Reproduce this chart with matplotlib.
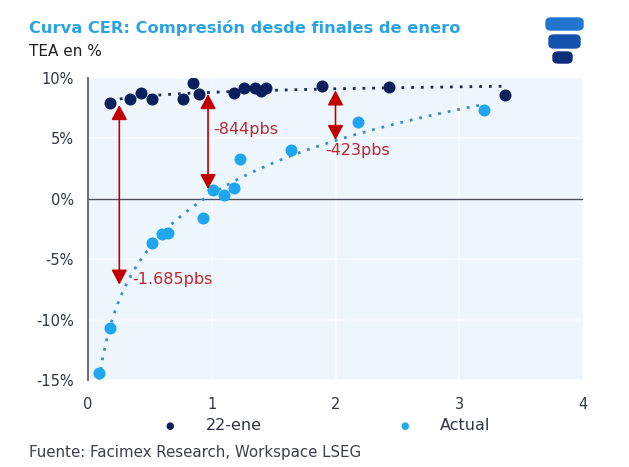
import numpy as np
import matplotlib
matplotlib.use("Agg")
import matplotlib.pyplot as plt
from matplotlib.patches import FancyBboxPatch

# 22-ene curve (duration, TEA %)
ene_x = [0.18, 0.34, 0.43, 0.52, 0.765, 0.85, 0.895, 1.18, 1.26, 1.35, 1.40, 1.436, 1.89, 2.43, 3.37]
ene_y = [7.9, 8.24, 8.79, 8.24, 8.24, 9.56, 8.65, 8.73, 9.15, 9.15, 8.95, 9.15, 9.37, 9.28, 8.6]

# current curve
act_x = [0.09, 0.18, 0.52, 0.60, 0.644, 0.93, 1.01, 1.10, 1.18, 1.23, 1.64, 2.18, 3.20]
act_y = [-14.44, -10.69, -3.69, -2.95, -2.87, -1.6, 0.74, 0.33, 0.93, 3.3, 4.05, 6.34, 7.36]

# compression arrows: x, top, bottom
arr_x = [0.253, 0.97, 2.0]
arr_top = [7.76, 8.67, 8.97]
arr_bot = [-7.1, 0.81, 4.87]
lbl_txt = ["-1.685pbs", "-844pbs", "-423pbs"]
lbl_x = [0.356, 1.01, 1.915]
lbl_y = [-6.7, 5.7, 3.96]

yticks = [10, 5, 0, -5, -10, -15]
xticks = [0, 1, 2, 3, 4]

NAVY = "#0B1F5C"
SKY = "#1EA7F0"
RED = "#C00000"

plt.rcParams['font.family'] = ['DejaVu Sans']

fig = plt.figure(figsize=(6.29, 4.67), dpi=100)
ax = fig.add_axes([88 / 629, 1 - 380 / 467, 495 / 629, 302 / 467])
ax.set_facecolor("#EEF6FD")

ax.set_xlim(0, 4)
ax.set_ylim(-15, 10)
ax.set_xticks(xticks)
ax.set_yticks(yticks)
ax.set_yticklabels([f"{v}%" for v in yticks])
ax.tick_params(length=0, labelsize=10.5, colors="#2F3542", pad=10)
ax.tick_params(axis='x', pad=12)
ax.grid(color="#F9FCFF", lw=1.2)
ax.set_axisbelow(True)
for s in ['top', 'right', 'bottom']:
    ax.spines[s].set_visible(False)
ax.spines['left'].set_color("#5A6170")
ax.spines['left'].set_linewidth(1.3)
ax.axhline(0, color="#4A5060", lw=1.0, zorder=1)

# log trendlines fitted on each curve
for xs, ys, c in [(ene_x, ene_y, "#1B2A55"), (act_x, act_y, "#3A8CC9")]:
    b, a = np.polyfit(np.log(xs), ys, 1)
    xx = np.linspace(min(xs), max(xs), 200)
    ax.plot(xx, a + b * np.log(xx), ls=(0, (1, 2.5)), color=c, lw=2, zorder=2)

ax.scatter(ene_x, ene_y, s=75, color=NAVY, zorder=4, lw=0)
ax.scatter(act_x, act_y, s=75, color=SKY, zorder=4, lw=0)

for x, t, b in zip(arr_x, arr_top, arr_bot):
    ax.annotate("", xy=(x, t), xytext=(x, b),
                arrowprops=dict(arrowstyle="<|-|>,head_length=0.6,head_width=0.32",
                                mutation_scale=15, color=RED, lw=1.2,
                                shrinkA=0, shrinkB=0), zorder=5)
for t, x, y in zip(lbl_txt, lbl_x, lbl_y):
    ax.text(x, y, t, color="#C0282D", fontsize=11.5, ha='left', va='center', zorder=6)

# legend
fig.text(170 / 629, 1 - 426 / 467, "\u25CF", color=NAVY, fontsize=7, ha='center', va='center')
fig.text(206 / 629, 1 - 426 / 467, "22-ene", color="#2F3542", fontsize=11.5, va='center')
fig.text(405 / 629, 1 - 426 / 467, "\u25CF", color=SKY, fontsize=7, ha='center', va='center')
fig.text(440 / 629, 1 - 426 / 467, "Actual", color="#2F3542", fontsize=11.5, va='center')

fig.text(29 / 629, 1 - 28 / 467, "Curva CER: Compresión desde finales de enero",
         color="#2AA3E6", fontsize=11.7, fontweight='bold', va='center')
fig.text(29 / 629, 1 - 52 / 467, "TEA en %", color="#1E1E1E", fontsize=11, va='center')
fig.text(29 / 629, 1 - 452 / 467, "Fuente: Facimex Research, Workspace LSEG",
         color="#3A3F4B", fontsize=10.8, va='center')

# logo: three stacked rounded bars
for (x0, y0, w, h, c) in [(546, 18, 37, 12, "#2176CF"), (549, 35, 31, 13, "#1552AE"),
                          (553, 52, 19, 11, "#0D2E78")]:
    fig.patches.append(FancyBboxPatch((x0 / 629, 1 - (y0 + h) / 467), w / 629, h / 467,
                                      boxstyle="round,pad=0,rounding_size=0.008",
                                      transform=fig.transFigure, color=c))

fig.savefig("out.png", dpi=100)
